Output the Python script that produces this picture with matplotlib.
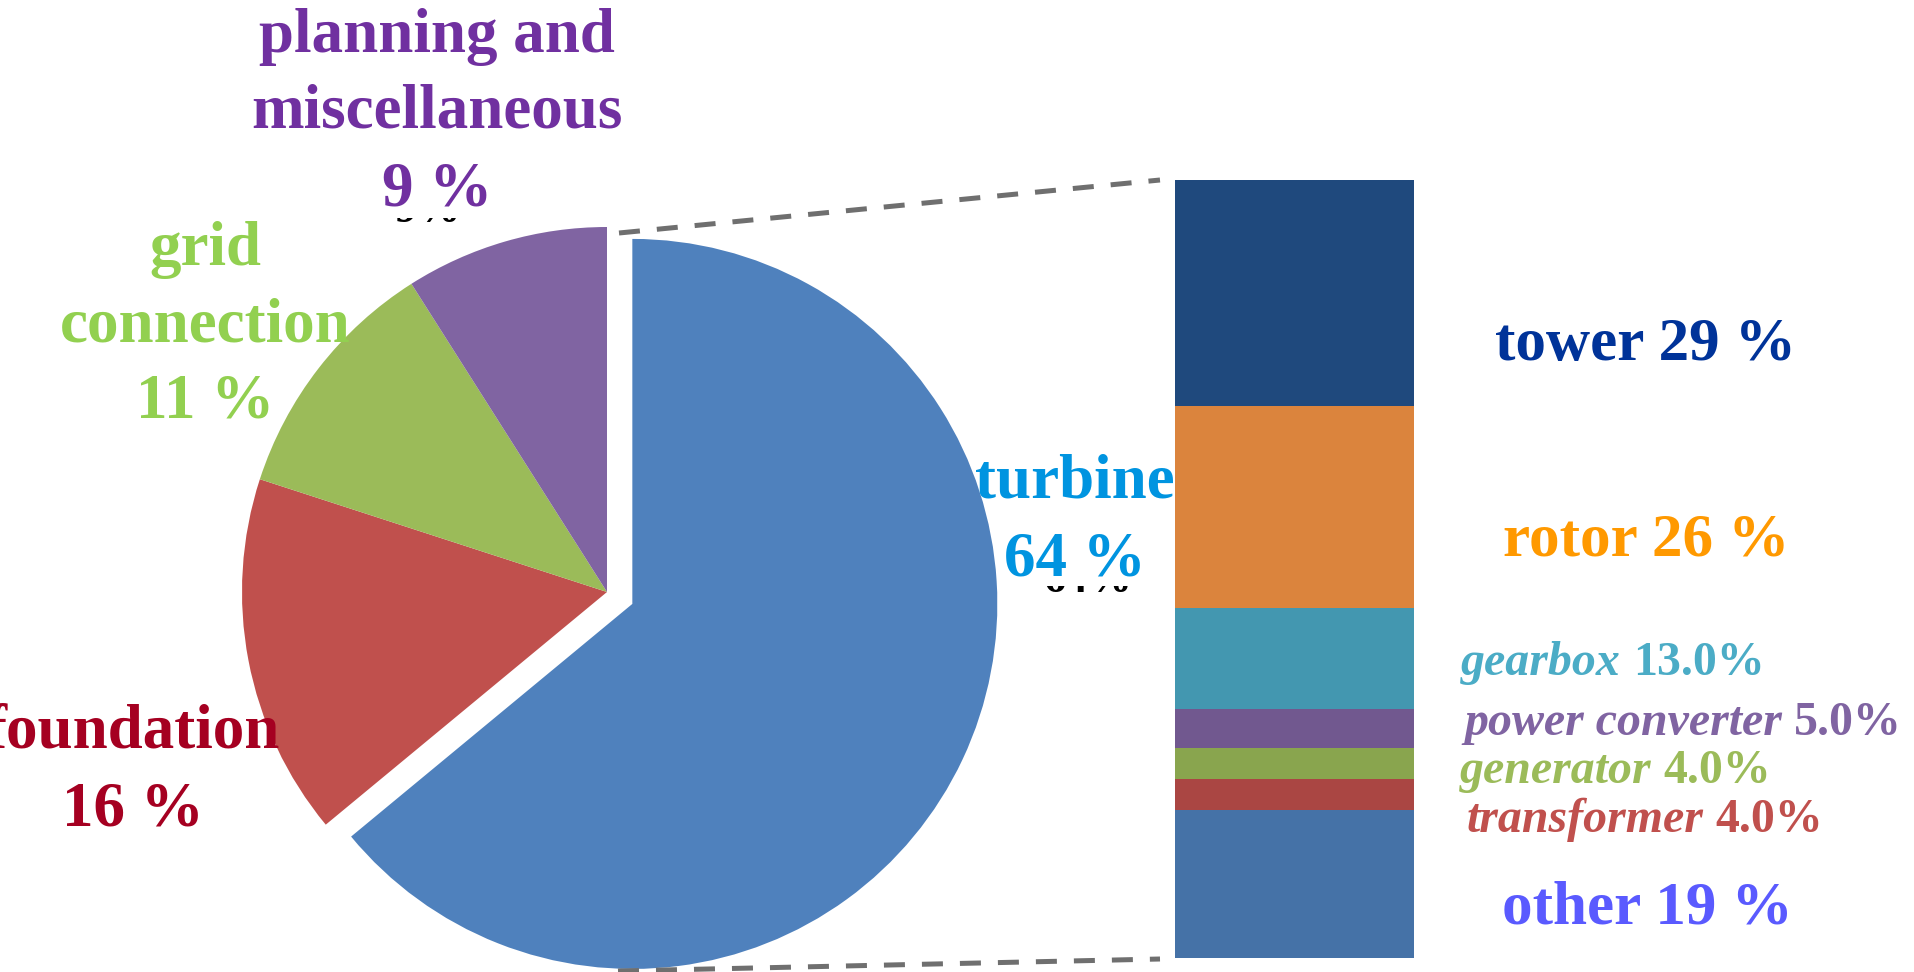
import matplotlib
matplotlib.use("Agg")
import matplotlib.pyplot as plt
import numpy as np
from matplotlib.transforms import Bbox, TransformedBbox

# cost split of the whole project
parts = ["turbine", "foundation", "grid\nconnection", "planning and\nmiscellaneous"]
shares = [64, 16, 11, 9]
part_colors = ["#4F81BD", "#C0504D", "#9BBB59", "#8064A2"]
part_text_colors = ["#0094E0", "#A50021", "#92D050", "#7030A0"]

# what the turbine itself is made of, top of the column first
components = ["tower", "rotor", "gearbox", "power converter", "generator", "transformer", "other"]
comp_shares = [29, 26, 13.0, 5.0, 4.0, 4.0, 19]
comp_colors = ["#1F497D", "#DB843D", "#4397B0", "#71588F", "#89A54E", "#AA4643", "#4572A7"]
comp_text_colors = ["#003399", "#FF9900", "#4BACC6", "#8064A2", "#9BBB59", "#C0504D", "#5A5AFF"]
comp_italic = [False, False, True, True, True, True, False]

W, H = 1915, 972
SERIF = "Liberation Serif"

fig = plt.figure(figsize=(W / 100, H / 100), dpi=100)
ax = fig.add_axes([0, 0, 1, 1])

# pie, turbine slice pulled out a bit (explode is in data units here)
ax.pie(shares, colors=part_colors, startangle=90, counterclock=False,
       explode=[28, 0, 0, 0], center=(607, H - 592), radius=365,
       wedgeprops=dict(linewidth=0))
ax.set_xlim(0, W)
ax.set_ylim(0, H)
ax.set_aspect("equal")
ax.axis("off")

# dashed connectors from the pie to the column
ax.plot([619, 1160], [H - 233, H - 180], color="#6F6F6F", lw=3.6,
        dashes=(4.2, 3.4), zorder=3)
ax.plot([618, 1160], [H - 971, H - 959], color="#6F6F6F", lw=3.6,
        dashes=(4.2, 3.4), zorder=3)

# stacked column for the turbine breakdown
bx = fig.add_axes([1175 / W, (H - 958) / H, 239 / W, 778 / H])
bottoms = np.concatenate([[0], np.cumsum(comp_shares)[:-1]])
bx.bar(0.5, comp_shares, width=1, bottom=bottoms, color=comp_colors, linewidth=0)
bx.set_xlim(0, 1)
bx.set_ylim(100, 0)
bx.axis("off")
bx.patch.set_visible(False)

# leftover bits of the default black data labels peeking out
def stub(x, base, s, size, clip):
    t = ax.text(x, H - base, s, ha="center", va="baseline", color="black",
                fontsize=size, fontweight="bold", family=SERIF)
    x0, y0, x1, y1 = clip
    t.set_clip_box(TransformedBbox(Bbox.from_extents(x0, H - y1, x1, H - y0), ax.transData))
    t.set_clip_on(True)

stub(1088, 592, "64%", 32, (1030, 586, 1140, 600))
stub(428, 222, "9%", 32, (380, 218, 470, 230))
stub(-32, 682, "16%", 32, (8, 675, 14, 690))

# pie labels, one text per line
pie_label_x = [1075, 133, 205, 437]
pie_label_base = [[498, 575], [748, 826], [265, 342, 418], [52, 128, 205]]
for name, v, c, x, bases in zip(parts, shares, part_text_colors, pie_label_x, pie_label_base):
    lines = name.split("\n") + [f"{v} %"]
    for s, b in zip(lines, bases):
        ax.text(x, H - b, s, ha="center", va="baseline", color=c,
                fontsize=45.4, fontweight="bold", family=SERIF, zorder=4)

# column labels
comp_label_x = [1646, 1646, 1461, 1464, 1460, 1467, 1647]
comp_label_base = [360, 555, 675, 735, 783, 832, 923]
renderer = fig.canvas.get_renderer()
for name, v, c, it, x, b in zip(components, comp_shares, comp_text_colors,
                                comp_italic, comp_label_x, comp_label_base):
    if not it:
        ax.text(x, H - b, f"{name} {v:.0f} %", ha="center", va="baseline",
                color=c, fontsize=44, fontweight="bold", family=SERIF)
        continue
    t = ax.text(x, H - b, name, ha="left", va="baseline", color=c,
                fontsize=34.5, fontweight="bold", style="italic", family=SERIF)
    w = t.get_window_extent(renderer=renderer).width
    ax.text(x + w + 12, H - b, f"{v:.1f}%", ha="left", va="baseline", color=c,
            fontsize=34.5, fontweight="bold", family=SERIF)

fig.savefig("out.png", dpi=100, facecolor="white")
